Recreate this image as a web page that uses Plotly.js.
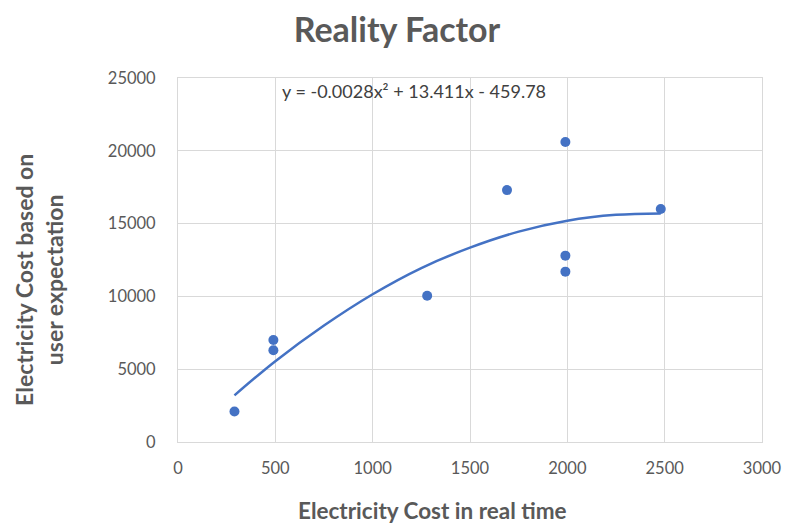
<!DOCTYPE html>
<html>
<head>
<meta charset="utf-8">
<script src="https://cdn.plot.ly/plotly-3.0.1.min.js"></script>
<style>html,body{margin:0;padding:0;background:#fff;}#chart{width:785px;height:527px;}</style>
</head>
<body>
<div id="chart"></div>
<script>
// Data
const realCost = [290, 490, 490, 1280, 1690, 1990, 1990, 1990, 2480];
const expectedCost = [2100, 7000, 6300, 10050, 17300, 20600, 12800, 11700, 16000];
// Trendline points
const trendX = [290, 500, 750, 1000, 1250, 1500, 1750, 2000, 2250, 2480];
const trendY = [3200, 5550, 8000, 10150, 11950, 13350, 14450, 15200, 15600, 15700];
const xTicks = [0, 500, 1000, 1500, 2000, 2500, 3000];
const xTickText = ["0", "500", "1000", "1500", "2000", "2500", "3000"];
const yTicks = [0, 5000, 10000, 15000, 20000, 25000];
const yTickText = ["0", "5000", "10000", "15000", "20000", "25000"];
const titleText = "Reality Factor";
const xTitle = "Electricity Cost in real time";
const yTitle = "Electricity Cost based on<br>user expectation";
const equation = "y = -0.0028x² + 13.411x - 459.78";

const FONT = "Lato, 'Open Sans', sans-serif";
const GRAY = "#595959";
const BLUE = "#4472C4";

const traces = [
  {
    x: trendX, y: trendY, type: "scatter", mode: "lines",
    line: {color: BLUE, width: 2.5, shape: "spline"},
    hoverinfo: "skip", showlegend: false
  },
  {
    x: realCost, y: expectedCost, type: "scatter", mode: "markers",
    marker: {color: BLUE, size: 10},
    showlegend: false
  }
];

const axisCommon = {
  showgrid: true, gridcolor: "#d9d9d9", gridwidth: 1,
  showline: true, mirror: true, linecolor: "#d9d9d9", linewidth: 1,
  zeroline: false,
  tickfont: {family: FONT, size: 16.5, color: GRAY},
  tickmode: "array",
  ticks: "outside", tickcolor: "rgba(0,0,0,0)"
};

const layout = {
  width: 785, height: 527,
  margin: {l: 178, r: 23, t: 78, b: 85},
  paper_bgcolor: "#fff", plot_bgcolor: "#fff",
  title: {text: "<b>" + titleText + "</b>", font: {family: FONT, size: 34, color: GRAY},
          x: 397 / 785, xanchor: "center", y: 1 - 30 / 527, yanchor: "middle"},
  xaxis: Object.assign({}, axisCommon, {range: [0, 3000], tickvals: xTicks, ticktext: xTickText, ticklen: 11}),
  yaxis: Object.assign({}, axisCommon, {range: [0, 25000], tickvals: yTicks, ticktext: yTickText, ticklen: 18}),
  annotations: [
    {text: equation, xref: "paper", yref: "paper", x: (414 - 178) / 584, y: (442 - 91) / 364,
     xanchor: "center", yanchor: "middle", showarrow: false,
     font: {family: FONT, size: 18, color: "#404040"}},
    {text: "<b>" + xTitle + "</b>", xref: "paper", yref: "paper", x: (432 - 178) / 584, y: -(510 - 442) / 364,
     xanchor: "center", yanchor: "middle", showarrow: false,
     font: {family: FONT, size: 22.5, color: GRAY}},
    {text: "<b>" + yTitle + "</b>", xref: "paper", yref: "paper", x: -(178 - 39) / 584, y: (442 - 280) / 364,
     xanchor: "center", yanchor: "middle", showarrow: false, textangle: -90,
     font: {family: FONT, size: 23, color: GRAY}}
  ]
};

Plotly.newPlot("chart", traces, layout, {displayModeBar: false, staticPlot: true});
</script>
</body>
</html>
